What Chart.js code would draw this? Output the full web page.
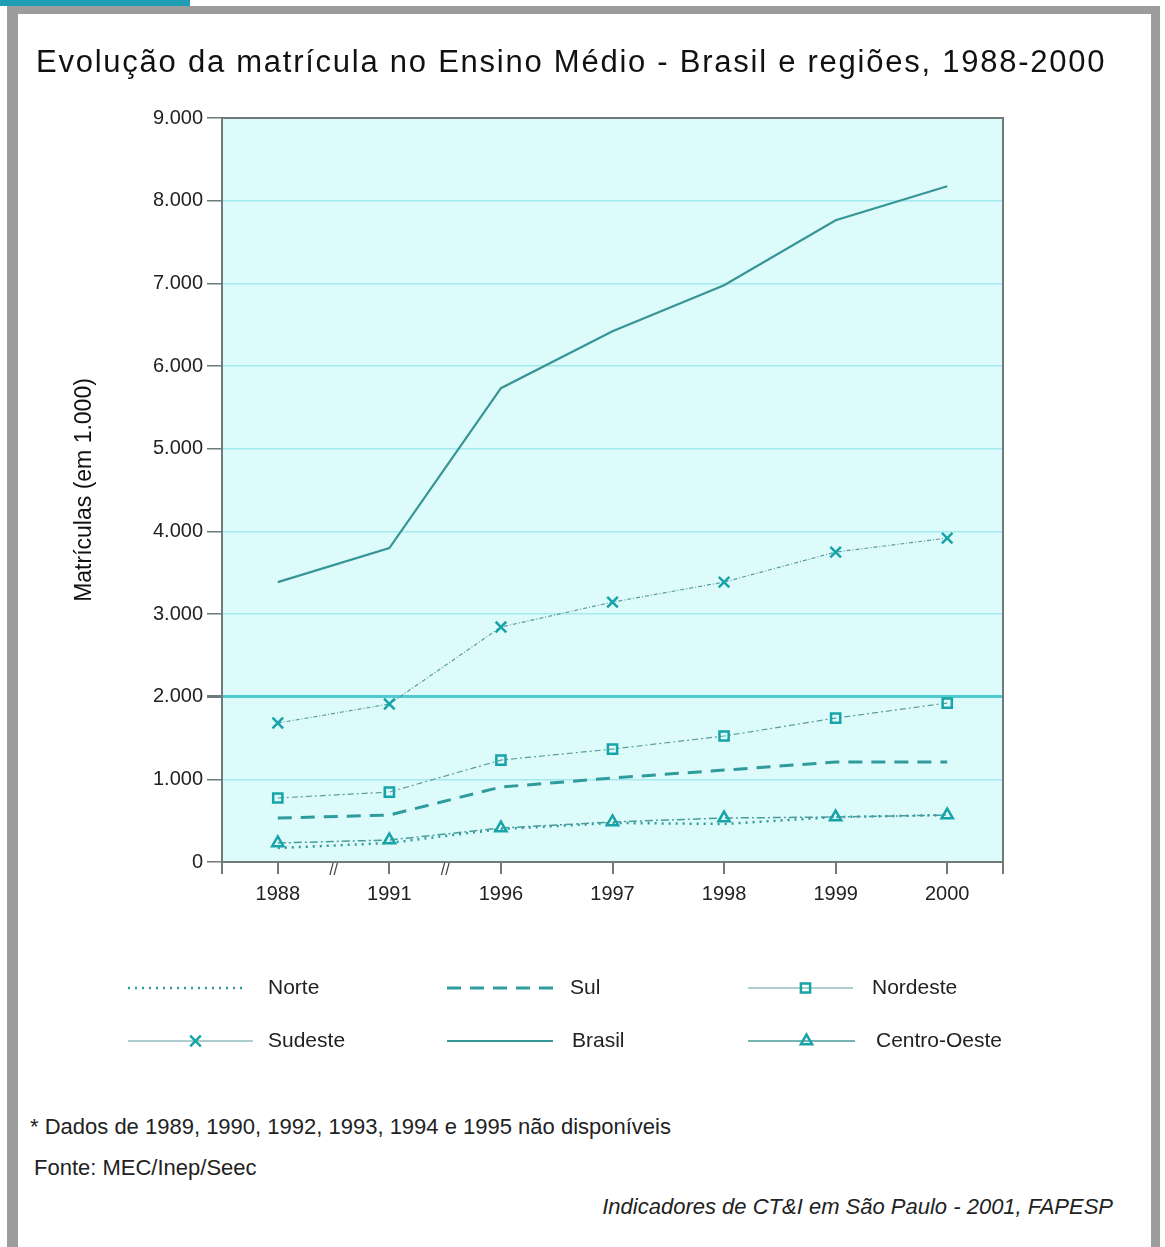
<!DOCTYPE html>
<html>
<head>
<meta charset="utf-8">
<script src="https://cdn.jsdelivr.net/npm/chart.js@4/dist/chart.umd.min.js"></script>
<style>
  html, body { margin: 0; padding: 0; background: #fff; }
  body { width: 1165px; height: 1247px; position: relative; overflow: hidden; font-family: "Liberation Sans", Arial, sans-serif; }
  #tab { position: absolute; left: 0; top: 0; width: 190px; height: 6px; background: #1f9db3; }
  #frame { position: absolute; left: 7px; top: 6px; width: 1133px; height: 1237px;
           border-top: 8px solid #9c9c9c; border-left: 11px solid #9c9c9c; border-right: 9px solid #9c9c9c; border-bottom: 2px solid #eeeeee; }
  #title { position: absolute; left: 36px; top: 44px; font-size: 31px; color: #111; white-space: nowrap; letter-spacing: 1.75px; }
  #wrap { position: absolute; left: 0; top: 0; width: 1165px; height: 1100px; }
  .note { position: absolute; font-size: 22px; color: #222; white-space: nowrap; }
  #n1 { left: 30px; top: 1114px; }
  #n2 { left: 34px; top: 1155px; }
  #n3 { right: 52px; top: 1194px; font-style: italic; font-size: 22px; }
</style>
</head>
<body>
<div id="tab"></div>
<div id="frame"></div>
<div id="wrap"><canvas id="myChart"></canvas></div>
<div id="title">Evolução da matrícula no Ensino Médio - Brasil e regiões, 1988-2000</div>
<div class="note" id="n1">* Dados de 1989, 1990, 1992, 1993, 1994 e 1995 não disponíveis</div>
<div class="note" id="n2">Fonte: MEC/Inep/Seec</div>
<div class="note" id="n3">Indicadores de CT&amp;I em São Paulo - 2001, FAPESP</div>
<script>
// matrículas em milhares
var anos = ['1988', '1991', '1996', '1997', '1998', '1999', '2000'];
var brasil = [3386, 3797, 5732, 6421, 6977, 7763, 8174];
var sudeste = [1681, 1911, 2842, 3144, 3386, 3749, 3918];
var nordeste = [774, 846, 1233, 1366, 1524, 1741, 1923];
var sul = [532, 568, 907, 1016, 1112, 1209, 1209];
var centroOeste = [230, 266, 411, 484, 532, 544, 568];
var norte = [169, 230, 399, 472, 460, 544, 568];
var yTicks = [0, 1000, 2000, 3000, 4000, 5000, 6000, 7000, 8000, 9000];

var teal = '#2f9b9c';
var mark = '#17a4a8';

function serie(label, data, dash, width, color, pStyle, pRadius) {
    return {
        label: label,
        data: data,
        borderColor: color,
        borderWidth: width,
        borderDash: dash,
        pointStyle: pStyle || false,
        pointRadius: pStyle ? pRadius : 0,
        pointBorderColor: mark,
        pointBackgroundColor: 'rgba(0,0,0,0)',
        pointBorderWidth: 2.5,
        tension: 0,
        fill: false
    };
}

var ds = {
    norte: serie('Norte', norte, [2, 5], 2.5, teal),
    sul: serie('Sul', sul, [14, 9], 3, teal),
    nordeste: serie('Nordeste', nordeste, [6, 3, 2, 3], 1.2, '#5a9d9d', 'rect', 6.5),
    sudeste: serie('Sudeste', sudeste, [4, 2, 1, 2], 1.2, '#5a9d9d', 'crossRot', 7.5),
    brasil: serie('Brasil', brasil, [], 2.2, '#379595'),
    centro: serie('Centro-Oeste', centroOeste, [8, 3, 2, 3], 1.5, '#4a9c9c', 'triangle', 6.5)
};

// posicao de cada amostra da legenda: inicio da linha, comprimento, inicio do texto
var legendSlots = [
    { d: ds.norte, x: 128, w: 119, tx: 268, y: 988 },
    { d: ds.sul, x: 447, w: 106, tx: 570, y: 988 },
    { d: ds.nordeste, x: 748, w: 105, tx: 872, y: 988 },
    { d: ds.sudeste, x: 128, w: 125, tx: 268, y: 1041 },
    { d: ds.brasil, x: 447, w: 106, tx: 572, y: 1041 },
    { d: ds.centro, x: 748, w: 107, tx: 876, y: 1041 }
];

var plotFrame = {
    id: 'plotFrame',
    beforeDraw: function (chart) {
        var a = chart.chartArea, c = chart.ctx;
        c.save();
        c.fillStyle = '#defbfc';
        c.fillRect(a.left, a.top, a.right - a.left, a.bottom - a.top);
        c.restore();
    },
    afterDatasetsDraw: function (chart) {
        var a = chart.chartArea, c = chart.ctx, x = chart.scales.x;
        c.save();
        c.strokeStyle = '#6f7b7b';
        c.lineWidth = 2;
        c.strokeRect(a.left, a.top, a.right - a.left, a.bottom - a.top);
        c.beginPath();
        c.moveTo(a.left, a.bottom); c.lineTo(a.left, a.bottom + 12);
        c.moveTo(a.right, a.bottom); c.lineTo(a.right, a.bottom + 12);
        c.stroke();
        // marcas de quebra entre anos nao consecutivos
        c.fillStyle = '#444';
        c.font = '16px "Liberation Sans", Arial, sans-serif';
        c.textAlign = 'center';
        c.textBaseline = 'top';
        [0.5, 1.5].forEach(function (v) {
            c.fillText('//', x.getPixelForValue(v), a.bottom + 1);
        });
        c.restore();
    },
    afterDraw: function (chart) {
        var c = chart.ctx, H = Chart.helpers;
        c.save();
        c.font = '21px "Liberation Sans", Arial, sans-serif';
        c.textBaseline = 'middle';
        legendSlots.forEach(function (s) {
            var d = s.d;
            c.strokeStyle = d.borderColor;
            c.lineWidth = d.borderWidth;
            c.setLineDash(d.pointStyle ? [] : d.borderDash);
            c.beginPath();
            c.moveTo(s.x, s.y); c.lineTo(s.x + s.w, s.y);
            c.stroke();
            c.setLineDash([]);
            if (d.pointStyle) {
                c.strokeStyle = mark;
                c.fillStyle = 'rgba(0,0,0,0)';
                c.lineWidth = 2.5;
                H.drawPoint(c, { pointStyle: d.pointStyle, radius: d.pointRadius, rotation: 0, borderWidth: 2.5 }, s.x + s.w / 2 + 5, s.y);
            }
            c.fillStyle = '#222';
            c.fillText(d.label, s.tx, s.y);
        });
        c.restore();
    }
};

const config = {
    type: 'line',
    data: {
        labels: anos,
        datasets: [ds.brasil, ds.sudeste, ds.nordeste, ds.sul, ds.centro, ds.norte]
    },
    options: {
        responsive: true, maintainAspectRatio: false,
        animation: false,
        layout: { padding: { top: 118, right: 162, bottom: 178, left: 67 } },
        plugins: { legend: { display: false }, tooltip: { enabled: false } },
        scales: {
            x: {
                type: 'category',
                offset: true,
                afterFit: function (s) { s.height = 60; },
                grid: { offset: false, drawOnChartArea: false, tickLength: 12, tickColor: '#6f7b7b', lineWidth: 2 },
                border: { color: '#6f7b7b', width: 2 },
                ticks: { color: '#222', padding: 8, font: { size: 20, family: '"Liberation Sans", Arial' } }
            },
            y: {
                min: 0, max: 9000,
                afterFit: function (s) { s.width = 222 - 67; },
                afterBuildTicks: function (s) { s.ticks = yTicks.map(function (v) { return { value: v }; }); },
                grid: {
                    color: function (ctx) { return ctx.tick && ctx.tick.value === 2000 ? '#4fcbd0' : '#a2e9ed'; },
                    lineWidth: function (ctx) { return ctx.tick && ctx.tick.value === 2000 ? 3 : 1.5; },
                    tickLength: 15, tickColor: '#6f7b7b'
                },
                border: { color: '#6f7b7b', width: 2 },
                ticks: {
                    color: '#222', padding: 4,
                    font: { size: 20, family: '"Liberation Sans", Arial' },
                    callback: function (v) { return v.toLocaleString('pt-BR'); }
                },
                title: {
                    display: true, text: 'Matrículas (em 1.000)', color: '#111',
                    font: { size: 23, family: '"Liberation Sans", Arial' }
                }
            }
        }
    },
    plugins: [plotFrame]
};

var myChart = new Chart(document.getElementById('myChart'), config);
</script>
</body>
</html>
